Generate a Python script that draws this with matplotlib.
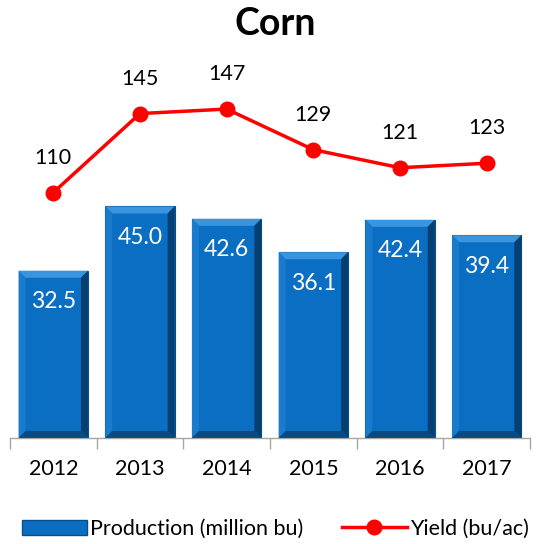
import matplotlib
matplotlib.use('Agg')
import matplotlib.pyplot as plt
from matplotlib.patches import Polygon, Rectangle
from matplotlib.lines import Line2D

plt.rcParams['font.family'] = ['Lato', 'DejaVu Sans']

# data
years = ['2012', '2013', '2014', '2015', '2016', '2017']
production = [32.5, 45.0, 42.6, 36.1, 42.4, 39.4]   # million bu
yields = [110, 145, 147, 129, 121, 123]              # bu/ac

blue = '#0A6FC2'
red = '#FF0000'

fig = plt.figure(figsize=(5.51, 5.44), dpi=100)
ax = fig.add_axes([0.018, 0.195, 0.944, 0.695])
ax2 = ax.twinx()

x = list(range(len(years)))
ax.set_xlim(-0.5, len(years) - 0.5)
ax.set_ylim(0, 73.5)
ax2.set_ylim(1.3, 168.8)

bars = ax.bar(x, production, width=0.8, color=blue, edgecolor='#0A4F8A', linewidth=0.8, zorder=2)

# bevel look on each bar
fig.canvas.draw()
bbox = ax.get_window_extent()
px_x = (len(years)) / bbox.width
px_y = 73.5 / bbox.height
bx, by = 7 * px_x, 7 * px_y
for b in bars:
    x0, w, h = b.get_x(), b.get_width(), b.get_height()
    x1 = x0 + w
    top = Polygon([(x0, h), (x1, h), (x1 - bx, h - by), (x0 + bx, h - by)],
                  closed=True, color='#3A95DF', lw=0, zorder=3)
    left = Polygon([(x0, 0), (x0, h), (x0 + bx, h - by), (x0 + bx, by)],
                   closed=True, color='#1A7ACB', lw=0, zorder=3)
    right = Polygon([(x1, 0), (x1, h), (x1 - bx, h - by), (x1 - bx, by)],
                    closed=True, color='#063F72', lw=0, zorder=3)
    bot = Polygon([(x0, 0), (x1, 0), (x1 - bx, by), (x0 + bx, by)],
                  closed=True, color='#0A4A82', lw=0, zorder=3)
    for p in (top, left, right, bot):
        ax.add_patch(p)
    ax.text(x0 + w / 2, h - 6.0, f'{h:.1f}', ha='center', va='center',
            color='white', fontsize=16.5, zorder=4)

ax2.plot(x, yields, color=red, lw=2.5, marker='o', markersize=10.5, zorder=5)
for xi, yv in zip(x, yields):
    ax2.text(xi, yv + 15.5, str(yv), ha='center', va='center', fontsize=15.5, color='black')

for a in (ax, ax2):
    for s in ('top', 'right', 'left'):
        a.spines[s].set_visible(False)
    a.set_yticks([])
ax2.spines['bottom'].set_visible(False)
ax.spines['bottom'].set_color('#A6A6A6')
ax.spines['bottom'].set_linewidth(1.0)

ax.set_xticks(x)
ax.set_xticklabels(years, fontsize=15.5)
ax.tick_params(axis='x', which='major', length=0, pad=15)
ax.set_xticks([i - 0.5 for i in range(len(years) + 1)], minor=True)
ax.tick_params(axis='x', which='minor', length=8, color='#A6A6A6', width=1.0)

fig.suptitle('Corn', fontsize=27, fontweight='bold', y=0.987)

handles = [Rectangle((0, 0), 1, 1, facecolor=blue, edgecolor='#0A4F8A'),
           Line2D([], [], color=red, lw=2.5, marker='o', markersize=10.5)]
fig.legend(handles, ['Production (million bu)', 'Yield (bu/ac)'], loc='center',
           bbox_to_anchor=(0.5, 0.028), ncol=2, frameon=False, fontsize=15.5,
           handlelength=3.0, handletextpad=0.15, columnspacing=1.8,
           borderpad=0.1, borderaxespad=0.1)

fig.savefig('out.png', dpi=100)
